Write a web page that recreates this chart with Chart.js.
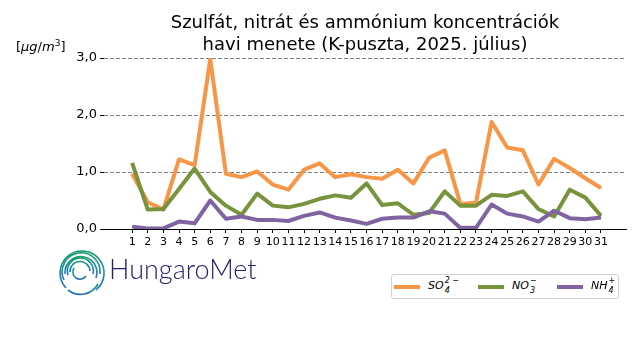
<!DOCTYPE html>
<html>
<head>
<meta charset="utf-8">
<script src="https://cdn.jsdelivr.net/npm/chart.js@4"></script>
<style>
  html, body { margin: 0; padding: 0; background: #fff; }
  #wrap { position: relative; width: 640px; height: 360px; overflow: hidden; font-family: "DejaVu Sans", sans-serif; }
  canvas { position: absolute; left: 0; top: 0; }
  #title { position: absolute; left: 104px; width: 522px; top: 11px; text-align: center; font-size: 18px; line-height: 22px; color: #000; }
  #unit { position: absolute; left: 16px; top: 38px; font-size: 13px; color: #000; }
  #legend { position: absolute; left: 391px; top: 274px; width: 226px; height: 23px; border: 1px solid #d0d0d0; border-radius: 3px; background: #fff; font-size: 11px; }
  .sw { position: absolute; top: 10px; width: 26px; height: 4px; }
  .lt { position: absolute; top: 4px; font-style: italic; white-space: nowrap; line-height: 14px; }
  .ss { display: inline-block; position: relative; width: 14px; height: 14px; vertical-align: top; font-size: 8px; line-height: 8px; }
  .ss .up { position: absolute; left: 1px; top: -2px; }
  .ss .dn { position: absolute; left: 1px; top: 8px; }
  #brand { position: absolute; left: 109px; top: 252px; font-family: Lato, sans-serif; font-weight: 300; font-size: 27px; color: #24236f; }
  #logo { position: absolute; left: 56px; top: 244px; }
</style>
</head>
<body>
<div id="wrap">
  <canvas id="c" width="640" height="360"></canvas>
  <div id="title">Szulfát, nitrát és ammónium koncentrációk<br>havi menete (K-puszta, 2025. július)</div>
  <div id="unit">[<i>μg</i>/<i>m</i><sup style="font-size:9px">3</sup>]</div>
  <div id="legend"></div>
  <svg id="logo" width="52" height="56" viewBox="0 0 52 56">
    <defs>
      <linearGradient id="g" x1="0" y1="0" x2="0" y2="1">
        <stop offset="0" stop-color="#0f9a6a"/>
        <stop offset="0.55" stop-color="#1a8ea6"/>
        <stop offset="1" stop-color="#2a6cb8"/>
      </linearGradient>
    </defs>
    <g fill="none" stroke="url(#g)" stroke-width="1.6">
      <path d="M 10 44 A 22 22 0 1 1 40 46"/>
      <path d="M 8 36 A 19 19 0 1 1 44 30"/>
      <path d="M 9 30 A 16 16 0 1 1 40 34"/>
      <path d="M 12 31 A 13 13 0 1 1 37 30"/>
      <path d="M 14 28 A 10 10 0 1 1 34 27"/>
      <path d="M 18 24 A 7 7 0 0 0 30 32"/>
      <path d="M 12 46 A 20 20 0 0 0 42 40"/>
      <path d="M 18 50 L 26 50"/>
    </g>
  </svg>
  <div id="brand">HungaroMet</div>
</div>
<script>
// ---- data ----
const days = [1,2,3,4,5,6,7,8,9,10,11,12,13,14,15,16,17,18,19,20,21,22,23,24,25,26,27,28,29,30,31];
const so4 = [0.97,0.47,0.34,1.22,1.12,2.98,0.97,0.91,1.01,0.78,0.69,1.04,1.15,0.91,0.96,0.91,0.88,1.04,0.80,1.25,1.38,0.44,0.46,1.88,1.43,1.38,0.78,1.23,1.07,0.89,0.72];
const no3 = [1.16,0.34,0.35,0.70,1.06,0.65,0.41,0.25,0.62,0.41,0.38,0.44,0.53,0.59,0.55,0.80,0.42,0.45,0.25,0.28,0.66,0.41,0.41,0.60,0.58,0.66,0.35,0.22,0.69,0.55,0.23];
const nh4 = [0.04,0.01,0.01,0.13,0.10,0.50,0.18,0.22,0.16,0.16,0.14,0.23,0.29,0.20,0.15,0.09,0.18,0.20,0.20,0.31,0.27,0.02,0.02,0.43,0.27,0.22,0.13,0.32,0.19,0.17,0.20];
const yTicks = [0,1,2,3];
const seriesBase = ['SO', 'NO', 'NH'];
const seriesSub = ['4', '3', '4'];
const seriesSup = ['2 −', '−', '+'];
const seriesNames = ['SO4 2-', 'NO3 -', 'NH4 +'];
const colors = ['#f79646', '#77933c', '#8064a2'];

const toPts = arr => days.map((d, i) => ({x: d, y: arr[i]}));

const ds = [so4, no3, nh4].map((arr, i) => ({
  label: seriesNames[i],
  data: toPts(arr),
  borderColor: colors[i],
  backgroundColor: colors[i],
  borderWidth: 4,
  pointRadius: 0,
  tension: 0,
  borderJoinStyle: 'round',
  order: 2 - i
}));

new Chart(document.getElementById('c'), {
  type: 'line',
  data: { datasets: ds },
  options: {
    responsive: false,
    animation: false,
    events: [],
    layout: { padding: { top: 58, right: 14, left: 0, bottom: 0 } },
    plugins: { legend: { display: false }, title: { display: false }, tooltip: { enabled: false } },
    scales: {
      x: {
        type: 'linear',
        min: -0.8,
        max: 32.6,
        afterFit: s => { s.height = 131; },
        afterBuildTicks: s => { s.ticks = days.map(v => ({value: v})); },
        ticks: { autoSkip: false, maxRotation: 0, padding: 3, color: '#000', font: { family: 'DejaVu Sans', size: 11 }, callback: v => String(v) },
        grid: { drawOnChartArea: false, drawTicks: true, tickLength: 4, tickColor: '#000', tickWidth: 1 },
        border: { display: true, color: '#000', width: 1 }
      },
      y: {
        min: 0,
        max: 3,
        afterFit: s => { s.width = 104; },
        afterBuildTicks: s => { s.ticks = yTicks.map(v => ({value: v})); },
        ticks: { padding: 3, color: '#000', font: { family: 'DejaVu Sans', size: 13 }, callback: v => v.toFixed(1).replace('.', ',') },
        grid: {
          color: c => (c.tick && c.tick.value === 0) ? 'rgba(0,0,0,0)' : '#808080',
          lineWidth: 1,
          drawTicks: true, tickLength: 4, tickColor: '#000', tickWidth: 1, tickBorderDash: [],
          borderDash: [4, 2]
        },
        border: { display: false, dash: [4, 2] }
      }
    }
  }
});

// legend (HTML, built from the series arrays)
const leg = document.getElementById('legend');
const pos = [[2, 36], [86, 120], [165, 199]];
seriesBase.forEach((base, i) => {
  const sw = document.createElement('div');
  sw.className = 'sw';
  sw.style.left = pos[i][0] + 'px';
  sw.style.background = colors[i];
  leg.appendChild(sw);
  const t = document.createElement('div');
  t.className = 'lt';
  t.style.left = pos[i][1] + 'px';
  t.innerHTML = base + '<span class="ss"><span class="up">' + seriesSup[i] + '</span><span class="dn">' + seriesSub[i] + '</span></span>';
  leg.appendChild(t);
});
</script>
</body>
</html>
